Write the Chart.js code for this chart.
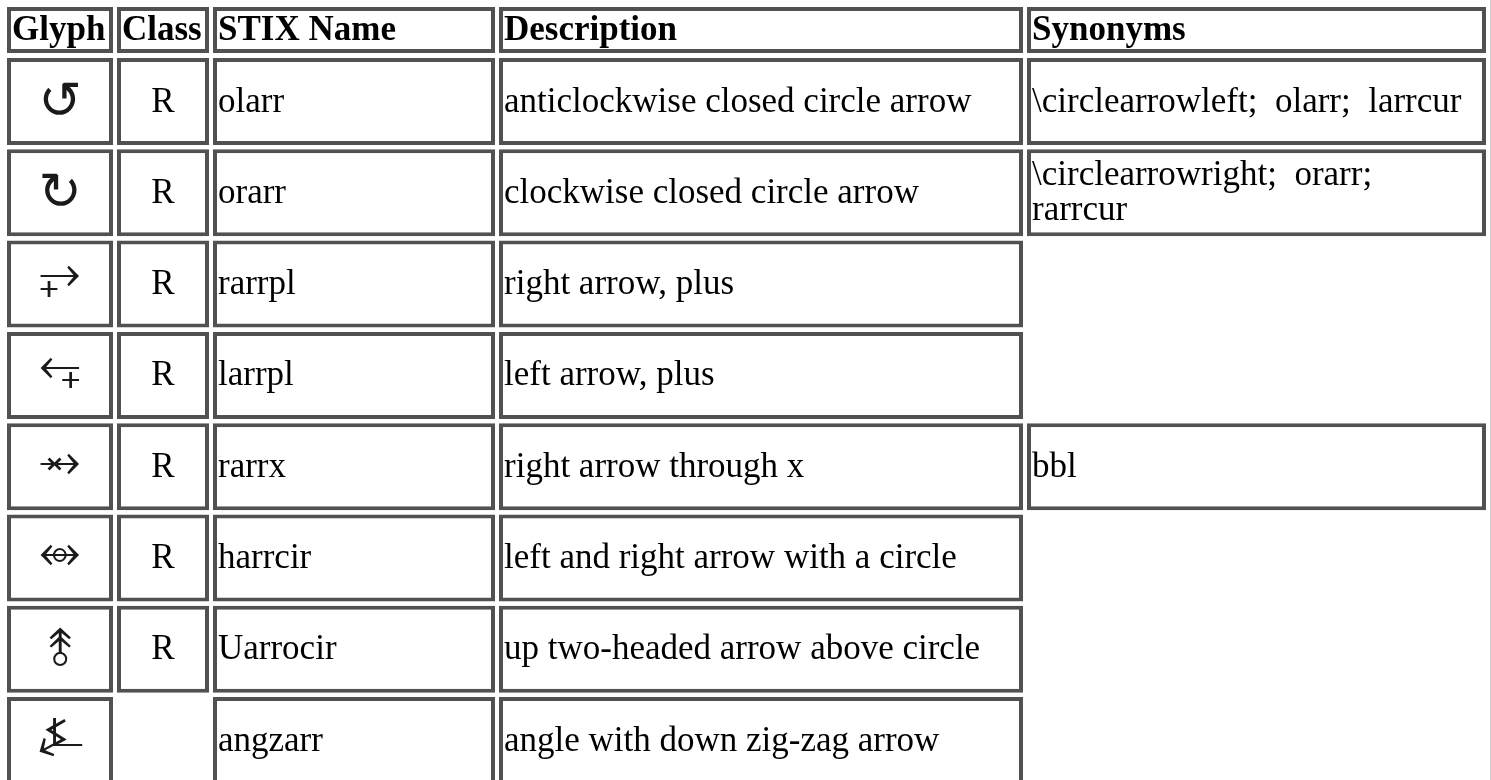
<!DOCTYPE html>
<html>
<head>
<meta charset="utf-8">
<title>STIX - flechas</title>
<script src="https://cdn.jsdelivr.net/npm/chart.js@4.4.1/dist/chart.umd.min.js"></script>
<style>
  html, body { margin: 0; padding: 0; background: #fff; }
  #wrap { position: relative; width: 1491px; height: 780px; }
</style>
</head>
<body>
<div id="wrap"><canvas id="tabla"></canvas></div>
<script>
// ============================================================
// DATOS DE LA TABLA
// ============================================================
const headers = ['Glyph', 'Class', 'STIX Name', 'Description', 'Synonyms'];
const glyphs = ['\u21BA', '\u21BB', '\u2945', '\u2946', '\u2947', '\u2948', '\u2949', '\u237C'];
const classes = ['R', 'R', 'R', 'R', 'R', 'R', 'R', ''];
const stixNames = ['olarr', 'orarr', 'rarrpl', 'larrpl', 'rarrx', 'harrcir', 'Uarrocir', 'angzarr'];
const descriptions = [
    'anticlockwise closed circle arrow',
    'clockwise closed circle arrow',
    'right arrow, plus',
    'left arrow, plus',
    'right arrow through x',
    'left and right arrow with a circle',
    'up two-headed arrow above circle',
    'angle with down zig-zag arrow'
];
const synonyms = [
    '\\circlearrowleft;  olarr;  larrcur',
    '\\circlearrowright;  orarr;  rarrcur',
    '', '', 'bbl', '', '', ''
];

// ============================================================
// LAYOUT (px)
// ============================================================
const colEdges = [[7, 113], [117, 209], [213, 495], [499, 1023], [1027, 1486]];
const headerCenter = 30, headerHeight = 46;
const bodyTop = 58, rowHeight = 87, rowPitch = 91.3;
const serif = "'Liberation Serif', 'Times New Roman', serif";
const fontSize = 35;
const lineH = 35;
const glyphFont = "'DejaVu Sans', sans-serif";
const glyphSize = 52;
const borderColor = '#515151';

const bodyCols = [glyphs, classes, stixNames, descriptions, synonyms];
const kinds = ['glyph', 'center', 'left', 'left', 'left'];

// Un dataset por fila: cada celda es una barra flotante
const datasets = [];
datasets.push({
    label: 'header',
    barThickness: headerHeight,
    data: headers.map((h, c) => ({ x: colEdges[c], y: headerCenter, text: h, kind: 'head' }))
});
glyphs.forEach((g, i) => {
    const center = bodyTop + rowPitch * i + rowHeight / 2;
    const data = [];
    bodyCols.forEach((col, c) => {
        if (col[i]) data.push({ x: colEdges[c], y: center, text: col[i], kind: kinds[c] });
    });
    datasets.push({ label: 'row' + (i + 1), barThickness: rowHeight, data: data });
});
datasets.forEach(ds => {
    ds.backgroundColor = '#ffffff';
    ds.borderColor = borderColor;
    ds.borderWidth = 4;
    ds.borderSkipped = false;
    ds.grouped = false;
    ds.inflateAmount = 0;
});

// ============================================================
// TEXTO DE LAS CELDAS
// ============================================================
function wrapLines(ctx, text, maxW) {
    const words = text.split(/\s+/);
    const sep = text.indexOf('  ') >= 0 ? '  ' : ' ';
    const lines = [];
    let line = '';
    words.forEach(w => {
        const test = line ? line + sep + w : w;
        if (line && ctx.measureText(test).width > maxW) {
            lines.push(line);
            line = w;
        } else {
            line = test;
        }
    });
    if (line) lines.push(line);
    return lines;
}

const textoPlugin = {
    id: 'textoCeldas',
    afterDatasetsDraw(chart) {
        const ctx = chart.ctx;
        ctx.save();
        ctx.fillStyle = '#000';
        chart.data.datasets.forEach((ds, di) => {
            const meta = chart.getDatasetMeta(di);
            meta.data.forEach((bar, j) => {
                const d = ds.data[j];
                const p = bar.getProps(['x', 'y', 'base'], true);
                const left = Math.min(p.x, p.base);
                const right = Math.max(p.x, p.base);
                if (d.kind === 'head') {
                    ctx.font = 'bold ' + fontSize + 'px ' + serif;
                    ctx.textAlign = 'left';
                    ctx.textBaseline = 'alphabetic';
                    ctx.fillText(d.text, left + 5, p.y + 10);
                } else if (d.kind === 'center') {
                    ctx.font = fontSize + 'px ' + serif;
                    ctx.textAlign = 'center';
                    ctx.textBaseline = 'alphabetic';
                    ctx.fillText(d.text, (left + right) / 2, p.y + 10);
                } else if (d.kind === 'glyph') {
                    // centrar la tinta del glifo en la celda
                    ctx.font = glyphSize + 'px ' + glyphFont;
                    ctx.textAlign = 'center';
                    ctx.textBaseline = 'alphabetic';
                    const m = ctx.measureText(d.text);
                    const inkMid = (m.actualBoundingBoxAscent - m.actualBoundingBoxDescent) / 2;
                    ctx.fillStyle = '#1a1a1a';
                    ctx.fillText(d.text, (left + right) / 2, p.y - 3 + inkMid);
                    ctx.fillStyle = '#000';
                } else {
                    ctx.font = fontSize + 'px ' + serif;
                    ctx.textAlign = 'left';
                    ctx.textBaseline = 'alphabetic';
                    const lines = wrapLines(ctx, d.text, right - left - 12);
                    const y0 = p.y + 10 - (lines.length - 1) * lineH / 2;
                    lines.forEach((ln, k) => ctx.fillText(ln, left + 5, y0 + k * lineH));
                }
            });
        });
        // borde fino a la derecha de la página
        ctx.fillStyle = '#cfcfcf';
        ctx.fillRect(chart.chartArea.right - 1, chart.chartArea.top, 1, chart.chartArea.bottom - chart.chartArea.top);
        ctx.restore();
    }
};

// ============================================================
// GRÁFICO
// ============================================================
const tablaChart = new Chart(document.getElementById('tabla'), {
    type: 'bar',
    data: { datasets: datasets },
    plugins: [textoPlugin],
    options: {
        indexAxis: 'y',
        responsive: true,
        maintainAspectRatio: false,
        animation: false,
        events: [],
        layout: { padding: 0 },
        plugins: {
            legend: { display: false },
            tooltip: { enabled: false }
        },
        scales: {
            x: { type: 'linear', min: 0, max: 1491, offset: false, display: false },
            y: { type: 'linear', min: 0, max: 780, reverse: true, offset: false, display: false }
        }
    }
});
</script>
</body>
</html>
